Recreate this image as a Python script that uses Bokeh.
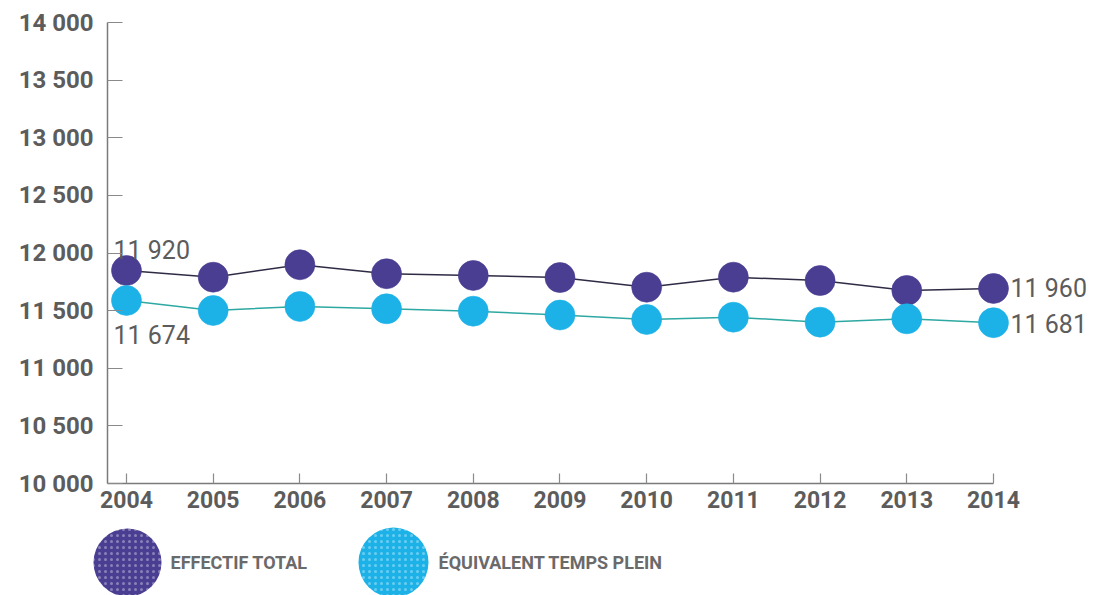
from bokeh.plotting import figure
from bokeh.layouts import column
from bokeh.models import FixedTicker, Range1d
from bokeh.core.properties import value
from bokeh.embed import file_html
from bokeh.resources import INLINE

# ---- data ----
years = [2004, 2005, 2006, 2007, 2008, 2009, 2010, 2011, 2012, 2013, 2014]
effectif_total = [11848, 11790, 11898, 11820, 11805, 11787, 11703, 11790, 11761, 11675, 11692]
equivalent_temps_plein = [11588, 11501, 11536, 11516, 11495, 11462, 11423, 11443, 11400, 11429, 11395]
y_ticks = [10000, 10500, 11000, 11500, 12000, 12500, 13000, 13500, 14000]
y_tick_labels = ["10 000", "10 500", "11 000", "11 500", "12 000", "12 500", "13 000", "13 500", "14 000"]
series_names = ["EFFECTIF TOTAL", "ÉQUIVALENT TEMPS PLEIN"]
start_labels = ["11 920", "11 674"]
end_labels = ["11 960", "11 681"]

PURPLE = "#4a3e92"
CYAN = "#1cb2e8"
GRAY = "#5c5c5c"
FONT = "Roboto"

X0, X1 = 2003.781, 2015.142

p = figure(width=1095, height=520, output_backend="svg", toolbar_location=None,
           x_range=Range1d(X0, X1), y_range=Range1d(10000, 14000),
           min_border_left=107, min_border_right=3, min_border_top=22, min_border_bottom=37)
p.frame_align = False
p.outline_line_color = None
p.xgrid.visible = False
p.ygrid.visible = False
p.background_fill_color = "white"
p.border_fill_color = "white"

# axes
p.yaxis.ticker = FixedTicker(ticks=y_ticks)
p.yaxis.major_label_overrides = {t: l for t, l in zip(y_ticks, y_tick_labels)}
p.xaxis.ticker = FixedTicker(ticks=years)
p.xaxis.major_label_overrides = {y: str(y) for y in years}
p.xaxis.bounds = (X0, 2014)
for ax in (p.xaxis, p.yaxis):
    ax.axis_line_color = "#7a7a7a"
    ax.axis_line_width = 1.5
    ax.major_tick_line_color = "#8a8a8a"
    ax.major_tick_line_width = 1.2
    ax.major_tick_out = 0
    ax.minor_tick_line_color = None
    ax.major_label_text_font = FONT
    ax.major_label_text_font_style = "bold"
    ax.major_label_text_color = GRAY
p.yaxis.major_tick_in = 15
p.xaxis.major_tick_in = 10
p.yaxis.major_label_text_font_size = "24px"
p.xaxis.major_label_text_font_size = "23px"
p.yaxis.major_label_standoff = 14
p.xaxis.major_label_standoff = 7

# series
p.line(years, effectif_total, line_color="#2f2b45", line_width=1.5)
p.line(years, equivalent_temps_plein, line_color="#2ea8a2", line_width=1.5)
p.scatter(years, effectif_total, size=30, fill_color=PURPLE, line_color=PURPLE, line_alpha=0.6)
p.scatter(years, equivalent_temps_plein, size=30, fill_color=CYAN, line_color=CYAN, line_alpha=0.6)

# data labels
lab = dict(text_font=value(FONT), text_font_size="25px", text_color=GRAY,
           text_align="left", text_baseline="middle")
p.text(x=[years[0]], y=[effectif_total[0]], text=[start_labels[0]], x_offset=-13, y_offset=-20, **lab)
p.text(x=[years[0]], y=[equivalent_temps_plein[0]], text=[start_labels[1]], x_offset=-13, y_offset=35, **lab)
p.text(x=[years[-1]], y=[effectif_total[-1]], text=[end_labels[0]], x_offset=17, y_offset=0, **lab)
p.text(x=[years[-1]], y=[equivalent_temps_plein[-1]], text=[end_labels[1]], x_offset=17, y_offset=2, **lab)

# legend strip (pixel-mapped ranges)
lg = figure(width=1095, height=75, output_backend="svg", toolbar_location=None,
            x_range=Range1d(0, 1095), y_range=Range1d(595, 520),
            x_axis_type=None, y_axis_type=None,
            min_border_left=0, min_border_right=0, min_border_top=0, min_border_bottom=0)
lg.frame_align = False
lg.outline_line_color = None
lg.xgrid.visible = False
lg.ygrid.visible = False
lg.background_fill_color = "white"
lg.border_fill_color = "white"
lg.scatter([127], [562], size=68, fill_color=PURPLE, line_color=None,
           hatch_pattern="dot", hatch_color="white", hatch_alpha=0.35, hatch_scale=6)
lg.scatter([393], [562], size=70, fill_color=CYAN, line_color=None,
           hatch_pattern="dot", hatch_color="white", hatch_alpha=0.35, hatch_scale=6)
lg.text(x=[170, 438], y=[562, 562], text=series_names, text_font=value(FONT),
        text_font_size="18px", text_font_style="bold", text_color="#6a6a6a",
        text_align="left", text_baseline="middle")

layout = column(p, lg, spacing=0)
open("out.html", "w").write(file_html(layout, INLINE))
